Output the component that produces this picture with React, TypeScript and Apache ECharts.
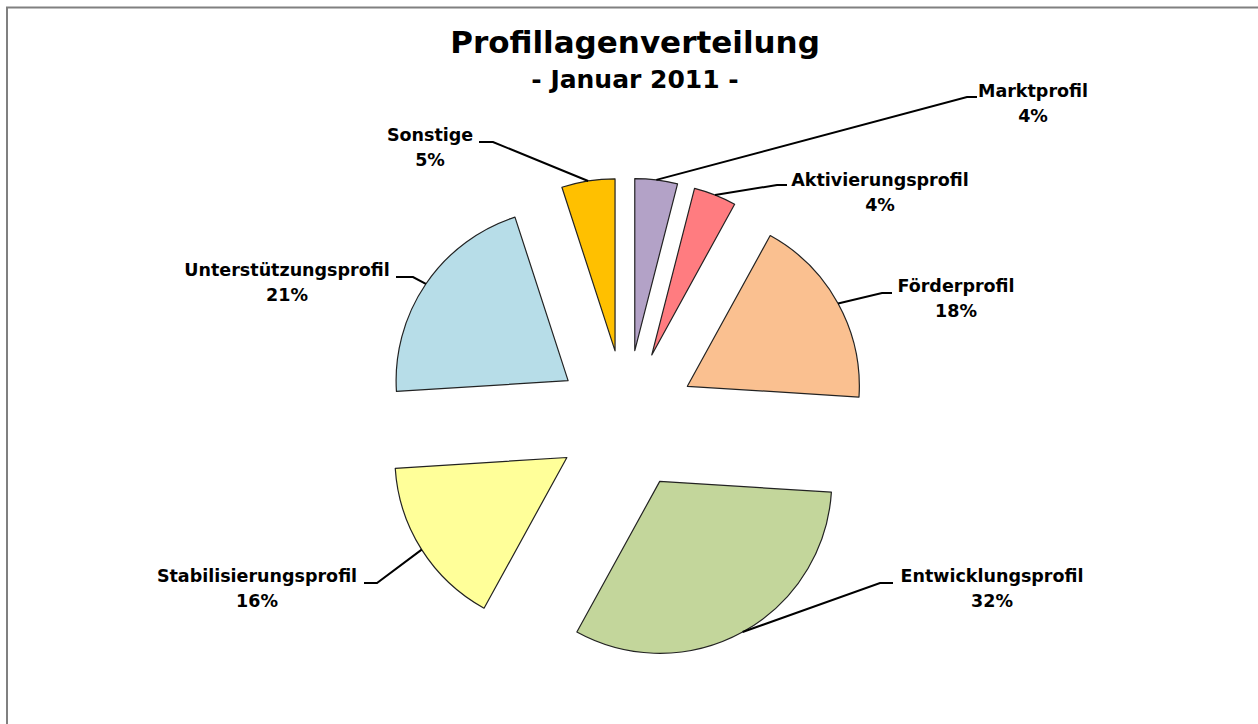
import React, { useEffect, useRef } from "react";
import * as echarts from "echarts";

// ---- data ----
const categories = [
  "Marktprofil",
  "Aktivierungsprofil",
  "Förderprofil",
  "Entwicklungsprofil",
  "Stabilisierungsprofil",
  "Unterstützungsprofil",
  "Sonstige",
];
const shares = [4, 4, 18, 32, 16, 21, 5];
const titleText = "Profillagenverteilung";
const subtitleText = "- Januar 2011 -";

// ---- styling / layout ----
const sliceColors = ["#B3A2C7", "#FF7C80", "#FAC090", "#C3D69B", "#FFFF99", "#B7DDE8", "#FFC000"];
const CX = 626;
const CY = 420;
const RADIUS = 172;
const EXPLODE = 70;
const LABEL_FONT = 'bold 17.5px "DejaVu Sans"';
// label block centre, leader line bend point and end point (page coordinates)
const labelPlacement = [
  { x: 1033, y: 103, bend: [967, 97], end: [977, 97] },
  { x: 880, y: 192, bend: [777, 185], end: [787, 185] },
  { x: 956, y: 298, bend: [882, 293], end: [892, 293] },
  { x: 992, y: 588, bend: [880, 583], end: [893, 583] },
  { x: 257, y: 588, bend: [377, 583], end: [364, 583] },
  { x: 287, y: 282, bend: [413, 277], end: [396, 277] },
  { x: 430, y: 147, bend: [493, 142], end: [479, 142] },
];

function buildLabelGraphics() {
  const total = shares.reduce((a, b) => a + b, 0);
  const out: any[] = [];
  let cum = 0;
  shares.forEach((v, i) => {
    const mid = ((cum + v / 2) / total) * Math.PI * 2;
    cum += v;
    const ux = Math.sin(mid);
    const uy = -Math.cos(mid);
    const p0 = [CX + (EXPLODE + RADIUS) * ux, CY + (EXPLODE + RADIUS) * uy];
    const lp = labelPlacement[i];
    out.push({
      type: "polyline",
      silent: true,
      z: 10,
      shape: { points: [p0, lp.bend, lp.end] },
      style: { stroke: "#000", lineWidth: 2, fill: null },
    });
    out.push({
      type: "text",
      silent: true,
      z: 10,
      x: lp.x,
      y: lp.y,
      style: {
        text: `${categories[i]}\n${v}%`,
        font: LABEL_FONT,
        fill: "#000",
        align: "center",
        verticalAlign: "middle",
        textAlign: "center",
        textVerticalAlign: "middle",
        lineHeight: 25,
      },
    });
  });
  return out;
}

export default function App() {
  const ref = useRef<HTMLDivElement>(null);
  useEffect(() => {
    if (!ref.current) return;
    const chart = echarts.init(ref.current, null, { renderer: "svg" });
    const option: any = {
      animation: false,
      backgroundColor: "#ffffff",
      title: {
        text: titleText,
        subtext: subtitleText,
        left: 630,
        textAlign: "center",
        top: 21,
        itemGap: 10,
        textStyle: {
          fontFamily: "DejaVu Sans",
          fontWeight: "bold",
          fontSize: 31,
          lineHeight: 31,
          color: "#000",
        },
        subtextStyle: {
          fontFamily: "DejaVu Sans",
          fontWeight: "bold",
          fontSize: 25,
          lineHeight: 25,
          color: "#000",
        },
      },
      graphic: [
        {
          type: "rect",
          silent: true,
          shape: { x: 7, y: 7.5, width: 1400, height: 900 },
          style: { fill: "none", stroke: "#808080", lineWidth: 2 },
        },
        ...buildLabelGraphics(),
      ],
      series: [
        {
          type: "pie",
          center: [CX, CY],
          radius: RADIUS,
          startAngle: 90,
          clockwise: true,
          selectedMode: "multiple",
          selectedOffset: EXPLODE,
          avoidLabelOverlap: false,
          silent: true,
          emphasis: { disabled: true },
          select: { itemStyle: { borderColor: "#222", borderWidth: 1.2 } },
          itemStyle: { borderColor: "#222", borderWidth: 1.2 },
          label: { show: false },
          labelLine: { show: false },
          data: categories.map((name, i) => ({
            name,
            value: shares[i],
            selected: true,
            itemStyle: { color: sliceColors[i] },
          })),
        },
      ],
    };
    chart.setOption(option);
    return () => chart.dispose();
  }, []);
  return (
    <div
      ref={ref}
      style={{ position: "absolute", left: 0, top: 0, width: 1258, height: 724 }}
    />
  );
}
